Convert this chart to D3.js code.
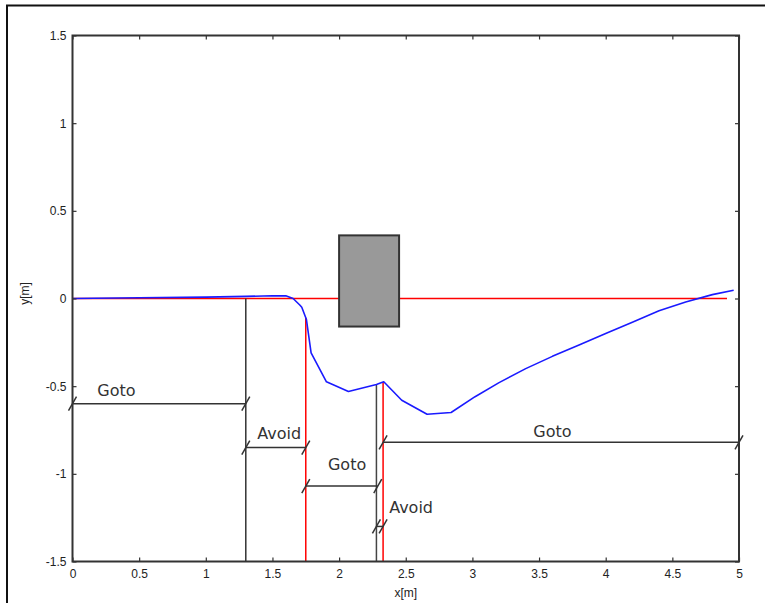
<!DOCTYPE html>
<html>
<head>
<meta charset="utf-8">
<script src="https://cdn.jsdelivr.net/npm/d3@7"></script>
<style>
  body { margin: 0; background: #fff; }
  svg { display: block; }
  .tick text { font-family: "Liberation Sans", Arial, sans-serif; font-size: 12px; fill: #222; }
</style>
</head>
<body>
<div id="chart"></div>
<script>
// 軌跡資料 (x[m], y[m])
const pathX = [0, 0.5, 1.0, 1.3, 1.5, 1.6, 1.655, 1.705, 1.72, 1.755, 1.79, 1.905, 2.07, 2.28, 2.335, 2.47, 2.66, 2.84, 3.02, 3.2, 3.4, 3.6, 3.8, 4.0, 4.2, 4.4, 4.6, 4.8, 4.96];
const pathY = [0, 0.004, 0.008, 0.012, 0.016, 0.015, 0.0, -0.037, -0.05, -0.12, -0.31, -0.475, -0.53, -0.49, -0.475, -0.58, -0.66, -0.65, -0.56, -0.48, -0.40, -0.33, -0.265, -0.2, -0.135, -0.07, -0.02, 0.022, 0.047];

// 參考線 y=0
const refLineX = [0, 4.91];

// 障礙物
const obstacleX = [2.0, 2.45];
const obstacleY = [-0.16, 0.36];

// 行為切換位置
const switchX = [1.3, 1.75, 2.28, 2.33];
const switchColor = ['#333', 'red', '#444', 'red'];

// 行為區段
const segLabels = ['Goto', 'Avoid', 'Goto', 'Avoid', 'Goto'];
const segStart = [0, 1.3, 1.75, 2.28, 2.33];
const segEnd = [1.3, 1.75, 2.29, 2.33, 5];
const segY = [-0.6, -0.85, -1.07, -1.3, -0.82];
const labelX = [0.33, 1.55, 2.06, 2.54, 3.6];
const labelY = [-0.523, -0.767, -0.947, -1.19, -0.757];

// 刻度
const xTicks = [0, 0.5, 1, 1.5, 2, 2.5, 3, 3.5, 4, 4.5, 5];
const yTicks = [-1.5, -1, -0.5, 0, 0.5, 1, 1.5];

const width = 765, height = 603;
const margin = { top: 35.5, right: 26, bottom: 41.5, left: 72.5 };

const svg = d3.select('#chart').append('svg')
    .attr('width', width)
    .attr('height', height);

// 外框
svg.append('path')
    .attr('d', `M7,603 L7,5.5 L765,5.5`)
    .attr('fill', 'none')
    .attr('stroke', '#111')
    .attr('stroke-width', 2);

const xScale = d3.scaleLinear().domain([0, 5]).range([margin.left, width - margin.right]);
const yScale = d3.scaleLinear().domain([-1.5, 1.5]).range([height - margin.bottom, margin.top]);

const trajectory = pathX.map((x, i) => ({ x, y: pathY[i] }));

// 根據x求軌跡的y值
function trajY(x) {
    const i = d3.bisector(d => d.x).left(trajectory, x);
    if (i <= 0) return trajectory[0].y;
    if (i >= trajectory.length) return trajectory[trajectory.length - 1].y;
    const a = trajectory[i - 1], b = trajectory[i];
    return a.y + (b.y - a.y) * (x - a.x) / (b.x - a.x);
}

// 參考線
svg.append('line')
    .attr('x1', xScale(refLineX[0])).attr('x2', xScale(refLineX[1]))
    .attr('y1', yScale(0)).attr('y2', yScale(0))
    .attr('stroke', 'red').attr('stroke-width', 1.5);

// 障礙物
svg.append('rect')
    .attr('x', xScale(obstacleX[0]))
    .attr('y', yScale(obstacleY[1]))
    .attr('width', xScale(obstacleX[1]) - xScale(obstacleX[0]))
    .attr('height', yScale(obstacleY[0]) - yScale(obstacleY[1]))
    .attr('fill', '#999')
    .attr('stroke', '#333')
    .attr('stroke-width', 2);

// 切換垂直線
svg.selectAll('.switch')
    .data(switchX)
    .enter().append('line')
    .attr('class', 'switch')
    .attr('x1', d => xScale(d)).attr('x2', d => xScale(d))
    .attr('y1', d => yScale(Math.min(trajY(d), 0)))
    .attr('y2', yScale(-1.5))
    .attr('stroke', (d, i) => switchColor[i])
    .attr('stroke-width', 1.5);

// 軌跡
svg.append('path')
    .datum(trajectory)
    .attr('fill', 'none')
    .attr('stroke', '#1a1aff')
    .attr('stroke-width', 1.6)
    .attr('stroke-linejoin', 'round')
    .attr('d', d3.line().x(d => xScale(d.x)).y(d => yScale(d.y)));

// 區段標示
const segs = segLabels.map((label, i) => ({
    label, x0: segStart[i], x1: segEnd[i], y: segY[i], lx: labelX[i], ly: labelY[i]
}));

const segG = svg.selectAll('.seg').data(segs).enter().append('g').attr('class', 'seg');

segG.append('line')
    .attr('x1', d => xScale(d.x0)).attr('x2', d => xScale(d.x1))
    .attr('y1', d => yScale(d.y)).attr('y2', d => yScale(d.y))
    .attr('stroke', '#333').attr('stroke-width', 1.5);

segG.selectAll('.slash')
    .data(d => [{ x: d.x0, y: d.y }, { x: d.x1, y: d.y }])
    .enter().append('line')
    .attr('class', 'slash')
    .attr('x1', d => xScale(d.x) - 4).attr('y1', d => yScale(d.y) + 7)
    .attr('x2', d => xScale(d.x) + 4).attr('y2', d => yScale(d.y) - 7)
    .attr('stroke', '#333').attr('stroke-width', 1.5);

segG.append('text')
    .attr('x', d => xScale(d.lx))
    .attr('y', d => yScale(d.ly))
    .attr('dy', '0.36em')
    .attr('text-anchor', 'middle')
    .attr('font-family', '"DejaVu Sans", sans-serif')
    .attr('font-size', 16)
    .attr('fill', '#333')
    .text(d => d.label);

// 座標軸 (刻度朝內)
const fmt = d => String(d);
svg.append('g')
    .attr('transform', `translate(0,${yScale(-1.5)})`)
    .call(d3.axisBottom(xScale).tickValues(xTicks).tickFormat(fmt).tickSizeInner(-4).tickSizeOuter(0).tickPadding(8));
svg.append('g')
    .attr('transform', `translate(0,${yScale(1.5)})`)
    .call(d3.axisTop(xScale).tickValues(xTicks).tickFormat('').tickSizeInner(-4).tickSizeOuter(0));
svg.append('g')
    .attr('transform', `translate(${xScale(0)},0)`)
    .call(d3.axisLeft(yScale).tickValues(yTicks).tickFormat(fmt).tickSizeInner(-4).tickSizeOuter(0).tickPadding(6));
svg.append('g')
    .attr('transform', `translate(${xScale(5)},0)`)
    .call(d3.axisRight(yScale).tickValues(yTicks).tickFormat('').tickSizeInner(-4).tickSizeOuter(0));

svg.selectAll('.domain').remove();
svg.selectAll('.tick line').attr('stroke', '#333').attr('stroke-width', 1.2);

// 圖框
svg.append('rect')
    .attr('x', xScale(0)).attr('y', yScale(1.5))
    .attr('width', xScale(5) - xScale(0))
    .attr('height', yScale(-1.5) - yScale(1.5))
    .attr('fill', 'none')
    .attr('stroke', '#333')
    .attr('stroke-width', 2);

// 軸標籤
svg.append('text')
    .attr('x', (xScale(0) + xScale(5)) / 2)
    .attr('y', 597)
    .attr('text-anchor', 'middle')
    .attr('font-family', '"Liberation Sans", Arial, sans-serif')
    .attr('font-size', 12)
    .attr('fill', '#222')
    .text('x[m]');

svg.append('text')
    .attr('transform', `translate(29,${yScale(0) - 5}) rotate(-90)`)
    .attr('text-anchor', 'middle')
    .attr('font-family', '"Liberation Sans", Arial, sans-serif')
    .attr('font-size', 12)
    .attr('fill', '#222')
    .text('y[m]');
</script>
</body>
</html>
